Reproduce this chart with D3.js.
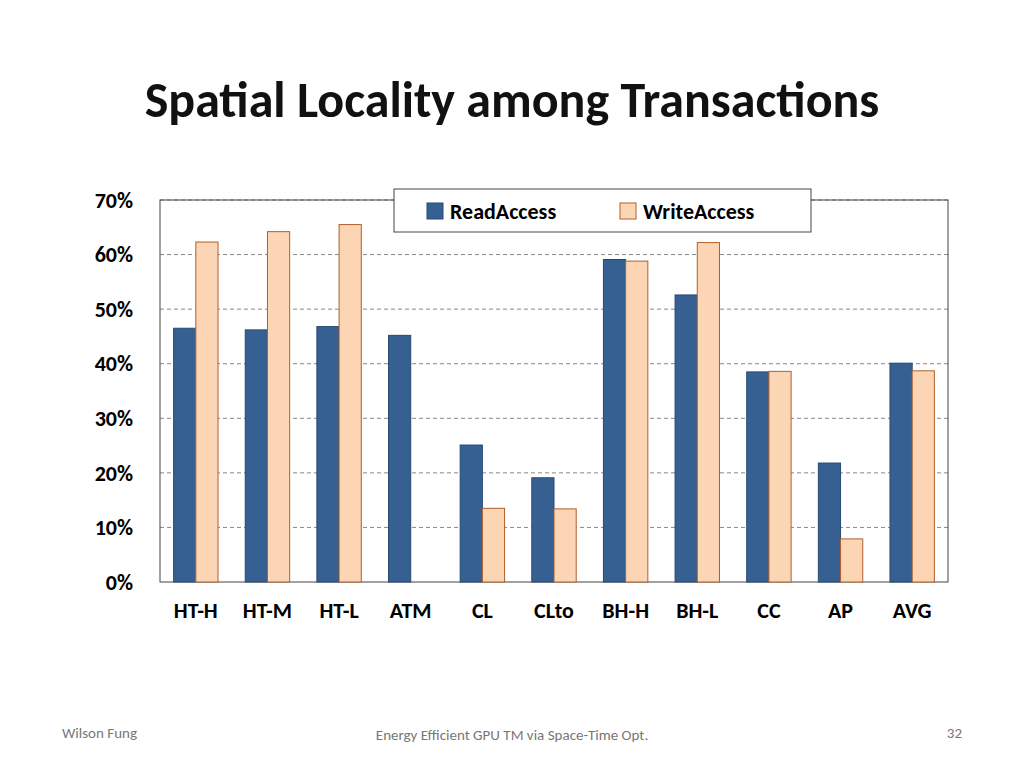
<!DOCTYPE html>
<html>
<head>
<meta charset="utf-8">
<script src="https://cdn.jsdelivr.net/npm/d3@7"></script>
<style>
body { margin: 0; background: #fff; }
text { font-family: Carlito, Lato, "Open Sans", sans-serif; }
</style>
</head>
<body>
<svg></svg>
<script>
const width = 1024;
const height = 768;

const categories = ['HT-H', 'HT-M', 'HT-L', 'ATM', 'CL', 'CLto', 'BH-H', 'BH-L', 'CC', 'AP', 'AVG'];
const readAccess = [46.5, 46.2, 46.8, 45.2, 25.1, 19.1, 59.1, 52.6, 38.5, 21.8, 40.1];
const writeAccess = [62.3, 64.2, 65.5, 0, 13.5, 13.4, 58.8, 62.2, 38.6, 7.9, 38.7];
const series = ['ReadAccess', 'WriteAccess'];
const yTicks = [0, 10, 20, 30, 40, 50, 60, 70];

const svg = d3.select('svg')
	.attr('width', width)
	.attr('height', height);

const colorScale = d3.scaleOrdinal()
	.domain(series)
	.range(['#376092', '#fcd5b5']);
const strokeScale = d3.scaleOrdinal()
	.domain(series)
	.range(['#264a73', '#b0602a']);

const plotLeft = 160, plotRight = 948, plotTop = 200, plotBottom = 582;

const x = d3.scaleBand().domain(categories).range([plotLeft, plotRight]).paddingInner(0.38).paddingOuter(0.19);
const x1 = d3.scaleBand().domain(series).range([0, x.bandwidth()]);
const y = d3.scaleLinear().domain([0, 70]).range([plotBottom, plotTop]);

// title
svg.append('text')
	.attr('x', 512).attr('y', 117)
	.attr('text-anchor', 'middle')
	.attr('font-size', 50).attr('font-weight', 'bold').attr('fill', '#111')
	.text('Spatial Locality among Transactions');

// gridlines
svg.append('g').selectAll('line')
	.data(yTicks.filter(d => d > 0))
	.enter().append('line')
		.attr('x1', plotLeft).attr('x2', plotRight)
		.attr('y1', y).attr('y2', y)
		.attr('stroke', '#888').attr('stroke-dasharray', '4,3');

// plot frame
svg.append('rect')
	.attr('x', plotLeft).attr('y', plotTop)
	.attr('width', plotRight - plotLeft).attr('height', plotBottom - plotTop)
	.attr('fill', 'none').attr('stroke', '#444');

// y axis labels
svg.append('g').selectAll('text')
	.data(yTicks)
	.enter().append('text')
		.attr('x', 133).attr('y', y)
		.attr('dy', '0.35em')
		.attr('text-anchor', 'end')
		.attr('font-size', 22).attr('font-weight', 'bold')
		.text(d => d + '%');

// bars
const groups = svg.append('g').selectAll('g')
	.data(categories)
	.enter().append('g')
		.attr('transform', d => `translate(${x(d)},0)`);

groups.selectAll('rect')
	.data((d, i) => [
		{ key: 'ReadAccess', value: readAccess[i] },
		{ key: 'WriteAccess', value: writeAccess[i] }
	].filter(e => e.value > 0))
	.enter().append('rect')
		.attr('x', d => x1(d.key))
		.attr('width', x1.bandwidth())
		.attr('y', d => y(d.value))
		.attr('height', d => y(0) - y(d.value))
		.attr('fill', d => colorScale(d.key))
		.attr('stroke', d => strokeScale(d.key));

// category labels
svg.append('g').selectAll('text')
	.data(categories)
	.enter().append('text')
		.attr('x', d => x(d) + x.bandwidth() / 2)
		.attr('y', 618)
		.attr('text-anchor', 'middle')
		.attr('font-size', 22).attr('font-weight', 'bold')
		.text(d => d);

// legend
const legend = svg.append('g');
legend.append('rect')
	.attr('x', 394).attr('y', 189).attr('width', 417).attr('height', 43)
	.attr('fill', '#fff').attr('stroke', '#444');
const lg = legend.selectAll('g')
	.data(series)
	.enter().append('g')
		.attr('transform', (d, i) => `translate(${427 + i * 193}, 203)`);
lg.append('rect')
	.attr('width', 16).attr('height', 16)
	.attr('fill', d => colorScale(d)).attr('stroke', d => strokeScale(d));
lg.append('text')
	.attr('x', 23).attr('y', 8).attr('dy', '0.35em')
	.attr('font-size', 22).attr('font-weight', 'bold')
	.text(d => d);

// footer
svg.append('text').attr('x', 62).attr('y', 738).attr('font-size', 15).attr('fill', '#777').text('Wilson Fung');
svg.append('text').attr('x', 512).attr('y', 740).attr('text-anchor', 'middle').attr('font-size', 15).attr('fill', '#777').text('Energy Efficient GPU TM via Space-Time Opt.');
svg.append('text').attr('x', 962).attr('y', 738).attr('text-anchor', 'end').attr('font-size', 15).attr('fill', '#777').text('32');
</script>
</body>
</html>
